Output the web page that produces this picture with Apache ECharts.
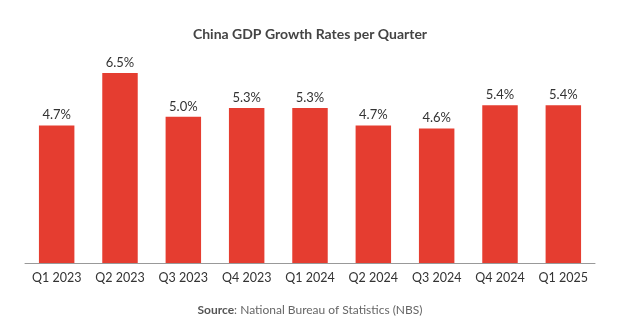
<!DOCTYPE html>
<html><head><meta charset="utf-8">
<script src="https://cdn.jsdelivr.net/npm/echarts@6/dist/echarts.min.js"></script>
<style>html,body{margin:0;padding:0;background:#fff;}#c{width:620px;height:325px;}</style>
</head><body><div id="c"></div>
<script>
const categories = ['Q1 2023','Q2 2023','Q3 2023','Q4 2023','Q1 2024','Q2 2024','Q3 2024','Q4 2024','Q1 2025'];
const growth = [4.7, 6.5, 5.0, 5.3, 5.3, 4.7, 4.6, 5.4, 5.4];
const chart = echarts.init(document.getElementById('c'), null, {renderer:'canvas'});
const FONT = 'Lato, "Open Sans", sans-serif';
chart.setOption({
  animation:false,
  title:[{text:'China GDP Growth Rates per Quarter',left:'center',top:22,
    textStyle:{fontFamily:FONT,fontSize:14,fontWeight:'bold',color:'#444'}},
    {text:'{b|Source}: National Bureau of Statistics (NBS)',left:'center',top:299,
    textStyle:{fontFamily:FONT,fontSize:12,fontWeight:'normal',color:'#666',
      rich:{b:{fontFamily:FONT,fontSize:12,fontWeight:'bold',color:'#555'}}}}],
  grid:{left:25,right:25,top:73,bottom:62},
  xAxis:{type:'category',data:categories,
    axisLine:{lineStyle:{color:'#999',width:1}},axisTick:{show:false},
    axisLabel:{fontFamily:FONT,fontSize:12.5,color:'#333',margin:8,interval:0}},
  yAxis:{type:'value',min:0,max:6.5,show:false,splitLine:{show:false}},
  series:[{type:'bar',data:growth,barWidth:'56%',
    itemStyle:{color:'#e53d30'},
    label:{show:true,position:'top',distance:4,fontFamily:FONT,fontSize:13,color:'#333',
      formatter:p=>p.value.toFixed(1)+'%'}}]
});
</script></body></html>
